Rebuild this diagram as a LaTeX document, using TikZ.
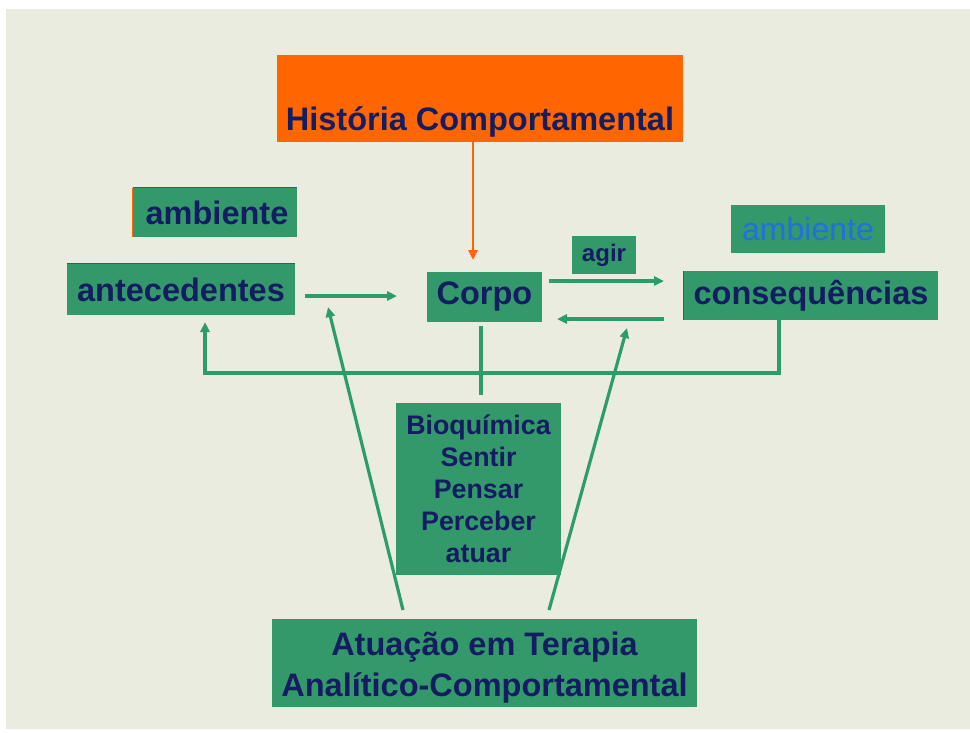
\documentclass[tikz,border=0pt]{standalone}
\usepackage{fontspec}
\setmainfont{Liberation Sans}
\usetikzlibrary{arrows.meta}
\definecolor{bg}{HTML}{EAECE0}
\definecolor{boxgreen}{HTML}{33986A}
\definecolor{linegreen}{HTML}{2E9C6A}
\definecolor{navytext}{HTML}{141C62}
\definecolor{orangebox}{HTML}{FF6600}
\definecolor{lightblue}{HTML}{2070E0}
\definecolor{edgeblue}{HTML}{3050C0}
\tikzset{
  gbox/.style={fill=boxgreen, inner sep=0pt, text=navytext,
    font=\bfseries\fontsize{32.5}{36}\selectfont, align=center},
  garrow/.style={draw=linegreen, line width=3.2pt, -{Triangle[length=10pt,width=9pt]}},
  gline/.style={draw=linegreen, line width=3.2pt},
  oarrow/.style={draw=orangebox, line width=2.6pt, -{Triangle[length=10pt,width=9pt]}},
  edgeline/.style={line width=1.2pt}
}
\begin{document}
\begin{tikzpicture}[x=1pt,y=-1pt]
\useasboundingbox (0,0) rectangle (970,732);
\fill[white] (0,0) rectangle (970,732);
\fill[bg] (6,9) rectangle (970,729);

% boxes
\node[fill=orangebox, minimum width=406pt, minimum height=87pt, inner sep=0pt] (hist) at (480,98.5) {};
\node[anchor=base, text=navytext, font=\bfseries\fontsize{32.5}{36}\selectfont, inner sep=0pt] (histtext) at (480,130) {História Comportamental};

\node[gbox, minimum width=164pt, minimum height=49pt] (amb1) at (215,212.5) {\hspace*{4pt}ambiente};
\node[gbox, minimum width=228pt, minimum height=51pt] (ante) at (181,289.5) {antecedentes};
\node[gbox, minimum width=115pt, minimum height=50pt] (corpo) at (484.5,297) {Corpo};
\node[gbox, minimum width=64pt, minimum height=38pt, font=\bfseries\fontsize{24}{28}\selectfont] (agir) at (604,255) {agir};
\node[gbox, minimum width=154pt, minimum height=48pt, text=lightblue, font=\fontsize{32}{36}\selectfont] (amb2) at (808,229) {ambiente};
\node[gbox, minimum width=254pt, minimum height=49pt] (cons) at (811,295.5) {consequências};
\node[gbox, minimum width=165pt, minimum height=172pt, font=\bfseries\fontsize{26.8}{32}\selectfont] (bio) at (478.5,489) {Bioquímica\\Sentir\\Pensar\\Perceber\\atuar};
\node[fill=boxgreen, minimum width=425pt, minimum height=88pt, inner sep=0pt] (atu) at (484.5,663) {};
\node[gbox, fill=none, font=\bfseries\fontsize{32.5}{41}\selectfont] (atutext) at (484.5,668) {Atuação em Terapia\\Analítico-Comportamental};

% thin edge artifacts
\draw[edgeline, orangebox] (amb1.north west) -- (amb1.south west);
\draw[edgeline, edgeblue] (amb1.north west) -- (amb1.north east);
\draw[edgeline, edgeblue] (ante.north west) -- (ante.north east);
\draw[edgeline, edgeblue] (cons.north west) -- (cons.south west);

% coordinates
\coordinate (oend) at (473,260);
\coordinate (a1) at (305,296);
\coordinate (a2) at (397,296);
\coordinate (b1) at (549,281);
\coordinate (b2) at (664,281);
\coordinate (c1) at (664,319);
\coordinate (c2) at (557,319);
\coordinate (fbx) at (779,373);
\coordinate (fbl) at (205,373);
\coordinate (fbend) at (205,322);
\coordinate (cb1) at (481,326);
\coordinate (cb2) at (481,395);
\coordinate (d1s) at (403,610);
\coordinate (d1e) at (328,307);
\coordinate (d2s) at (549,610);
\coordinate (d2e) at (627,328);

% connectors
\draw[oarrow] (hist.south -| oend) -- (oend);
\draw[garrow] (a1) -- (a2);
\draw[garrow] (b1) -- (b2);
\draw[garrow] (c1) -- (c2);
\draw[garrow] (cons.south -| fbx) -- (fbx) -- (fbl) -- (fbend);
\draw[gline] (cb1) -- (cb2);
\draw[garrow] (d1s) -- (d1e);
\draw[garrow] (d2s) -- (d2e);
\end{tikzpicture}
\end{document}
